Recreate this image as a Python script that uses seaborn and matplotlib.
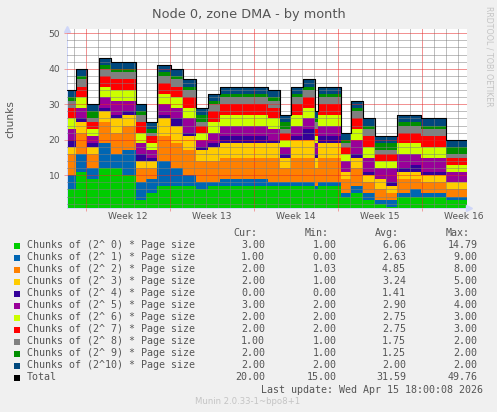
import numpy as np
import pandas as pd
import matplotlib
matplotlib.use("Agg")
import matplotlib.pyplot as plt
import matplotlib.dates as mdates
import matplotlib.transforms as mtransforms
from matplotlib.patches import Rectangle
from matplotlib.ticker import NullFormatter, MultipleLocator
import seaborn as sns

# graph window: 400 px of 2 hour samples ending at the last update
GRAPH_START = pd.Timestamp("2026-03-13 10:00")
GRAPH_HOURS = 800

# start of each sample run, hours after GRAPH_START
sample_hours = [0, 18, 40, 64, 88, 110, 138, 158, 180, 208, 232, 258, 282, 306, 402,
                426, 448, 472, 496, 502, 548, 568, 592, 616, 638, 660, 686, 708, 758]

# free chunks per order
chunks_o0 = [6, 11, 9, 12, 12, 10, 3, 5, 7, 7, 7, 6, 7, 7, 7, 7, 7, 7, 6, 7, 4, 5, 3, 2, 1, 4, 4, 4, 3]
chunks_o1 = [4, 5, 3, 7, 4, 7, 5, 4, 7, 5, 3, 2, 1, 2, 1, 1, 1, 1, 1, 1, 1, 2, 2, 1, 2, 1, 2, 1, 1]
chunks_o2 = [6, 6, 4, 6, 6, 7, 4, 3, 7, 7, 7, 6, 6, 6, 7, 4, 7, 7, 5, 7, 4, 5, 3, 3, 2, 4, 3, 3, 2]
chunks_o3 = [2, 3, 2, 3, 4, 3, 2, 2, 5, 5, 4, 3, 4, 4, 4, 3, 5, 5, 3, 4, 2, 3, 2, 3, 2, 2, 2, 2, 2]
chunks_o4 = [2, 1, 1, 1, 1, 1, 2, 1, 1, 2, 1, 1, 1, 2, 1, 1, 1, 3, 1, 2, 0, 1, 1, 0, 1, 1, 2, 1, 0]
chunks_o5 = [3, 3, 2, 3, 4, 3, 3, 2, 3, 3, 4, 2, 3, 3, 3, 2, 3, 3, 3, 3, 3, 4, 4, 3, 4, 4, 3, 4, 3]
chunks_o6 = [3, 3, 2, 3, 3, 3, 3, 2, 3, 3, 3, 2, 3, 3, 3, 2, 3, 3, 2, 3, 2, 3, 3, 2, 2, 3, 3, 3, 2]
chunks_o7 = [3, 3, 2, 3, 3, 3, 3, 2, 3, 3, 3, 2, 3, 3, 3, 2, 3, 3, 2, 3, 2, 3, 3, 2, 2, 3, 3, 3, 2]
chunks_o8 = [2, 2, 1, 2, 2, 2, 2, 1, 2, 2, 2, 1, 2, 2, 2, 1, 2, 2, 2, 2, 1, 2, 2, 1, 1, 2, 2, 2, 1]
chunks_o9 = [1, 1, 2, 1, 1, 1, 1, 1, 1, 1, 1, 2, 1, 1, 1, 2, 1, 1, 1, 1, 1, 1, 1, 2, 2, 1, 1, 1, 2]
chunks_o10 = [2, 2, 2, 2, 2, 2, 2, 2, 2, 2, 2, 2, 2, 2, 2, 2, 2, 2, 2, 2, 2, 2, 2, 2, 2, 2, 2, 2, 2]

series_values = [chunks_o0, chunks_o1, chunks_o2, chunks_o3, chunks_o4, chunks_o5,
                 chunks_o6, chunks_o7, chunks_o8, chunks_o9, chunks_o10]
series_labels = [f"Chunks of (2^{k:2d}) * Page size" for k in range(11)] + ["Total"]
series_colors = ["#00CC00", "#0066B3", "#FF8000", "#FFCC00", "#330099", "#990099",
                 "#CCFF00", "#FF0000", "#808080", "#008F00", "#00487D", "#000000"]

# legend statistics as printed below the graph
stat_cur = [3.00, 1.00, 2.00, 2.00, 0.00, 3.00, 2.00, 2.00, 1.00, 2.00, 2.00, 20.00]
stat_min = [1.00, 0.00, 1.03, 1.00, 0.00, 2.00, 2.00, 2.00, 1.00, 1.00, 2.00, 15.00]
stat_avg = [6.06, 2.63, 4.85, 3.24, 1.41, 2.90, 2.75, 2.75, 1.75, 1.25, 2.00, 31.59]
stat_max = [14.79, 9.00, 8.00, 5.00, 3.00, 4.00, 3.00, 3.00, 2.00, 2.00, 2.00, 49.76]

TEXT = "#555555"
MONO = "DejaVu Sans Mono"
W, H = 497, 412

sns.set_style("white")
plt.rcParams["font.family"] = ["DejaVu Sans"]


def fx(px):
    """pixel column -> figure fraction"""
    return px / W


def fy(py):
    """pixel row (from top) -> figure fraction"""
    return 1 - py / H


fig = plt.figure(figsize=(W / 100, H / 100), dpi=100, facecolor="#f0f0f0")
ax = fig.add_axes([fx(66.7), fy(207.7), (467 - 66.7) / W, (207.7 - 29) / H])
ax.set_facecolor("white")

# stacked areas, drawn as steps
times = (GRAPH_START + pd.to_timedelta(sample_hours + [GRAPH_HOURS], unit="h")).to_numpy()
values = np.array(series_values, dtype=float)
values = np.hstack([values, values[:, -1:]])
tops = np.cumsum(values, axis=0)
bottoms = np.vstack([np.zeros(values.shape[1]), tops[:-1]])
for bottom, top, colour in zip(bottoms, tops, series_colors):
    ax.fill_between(times, bottom, top, step="post", color=colour, linewidth=0, zorder=1)

# total as a line on top of the stack
sns.lineplot(x=times, y=tops[-1], drawstyle="steps-post", color="black",
             linewidth=0.8, ax=ax, zorder=4)

ax.set_xlim(GRAPH_START, GRAPH_START + pd.Timedelta(hours=GRAPH_HOURS))
ax.set_ylim(0.87, 51.2)
ax.set_xlabel("")
ax.set_ylabel("")

ax.xaxis.set_major_locator(mdates.WeekdayLocator(byweekday=mdates.SU))
ax.xaxis.set_minor_locator(mdates.DayLocator())
ax.xaxis.set_major_formatter(NullFormatter())
ax.xaxis.set_minor_formatter(NullFormatter())
ax.yaxis.set_major_locator(MultipleLocator(10))
ax.yaxis.set_minor_locator(MultipleLocator(2))

# rrdtool paints its grid semi-transparent over the areas
ax.grid(which="minor", color=(0.5, 0.5, 0.5, 0.25), linewidth=0.72, linestyle=(0, (1, 1)))
ax.grid(which="major", color=(0.9, 0.15, 0.15, 0.32), linewidth=0.72, linestyle=(0, (1, 1)))
ax.set_axisbelow(False)

ax.tick_params(bottom=True, left=True, direction="out")
ax.tick_params(which="major", length=2.2, width=0.72, color="#f0a0a0",
               labelsize=6.6, labelcolor=TEXT, pad=2.5)
ax.tick_params(which="minor", length=1.5, width=0.72, color="#c8c8c8")

for side in ["top", "right"]:
    ax.spines[side].set_visible(False)
for side in ["left", "bottom"]:
    ax.spines[side].set_color("#CFD6F8")
    ax.spines[side].set_linewidth(0.72)
ax.plot([0], [1.0], marker="^", ms=4, color="#CFD6F8", transform=ax.transAxes, clip_on=False)
ax.plot([1.006], [0], marker=">", ms=4, color="#CFD6F8", transform=ax.transAxes, clip_on=False)

# week labels sit in the middle of each week
blend = mtransforms.blended_transform_factory(ax.transData, ax.transAxes)
for sunday in pd.date_range("2026-03-15", periods=5, freq="7D"):
    mid = sunday + pd.Timedelta(days=3.5)
    ax.text(mdates.date2num(mid), -0.049, f"Week {mid.isocalendar().week}",
            transform=blend, ha="center", va="center", fontsize=6.6, color=TEXT, clip_on=False)

# titles
fig.text(fx(248.5), fy(18.3), "Node 0, zone DMA - by month", ha="center", va="baseline",
         fontsize=9.3, color=TEXT)
fig.text(fx(10.8), fy(119), "chunks", rotation=90, ha="center", va="center",
         fontsize=7.7, color=TEXT)
fig.text(fx(488.5), fy(56.5), "RRDTOOL / TOBI OETIKER", rotation=270, ha="center",
         va="center", fontsize=5.7, color="#c4c4c4")

# legend table
for col_x, head in zip([257.5, 328.5, 398.5, 470.0], ["Cur:", "Min:", "Avg:", "Max:"]):
    fig.text(fx(col_x), fy(233.5), head, ha="right", va="center", family=MONO,
             fontsize=7.2, color=TEXT)

value_cols = [265.0, 336.3, 406.0, 477.3]
for i, (label, colour) in enumerate(zip(series_labels, series_colors)):
    y = 245.5 + 12 * i
    fig.add_artist(Rectangle((fx(14), fy(y + 3)), 6 / W, 6 / H, transform=fig.transFigure,
                             facecolor=colour, edgecolor="none"))
    fig.text(fx(26.7), fy(y), label, ha="left", va="center", family=MONO,
             fontsize=7.2, color=TEXT)
    row = [stat_cur[i], stat_min[i], stat_avg[i], stat_max[i]]
    for col_x, v in zip(value_cols, row):
        fig.text(fx(col_x), fy(y), f"{v:.2f}", ha="right", va="center", family=MONO,
                 fontsize=7.2, color=TEXT)

fig.text(fx(482.7), fy(389.7), "Last update: Wed Apr 15 18:00:08 2026", ha="right",
         va="center", family=MONO, fontsize=7.2, color=TEXT)
fig.text(fx(248), fy(401), "Munin 2.0.33-1~bpo8+1", ha="center", va="center",
         fontsize=6.1, color="#c4c4c4")

fig.savefig("out.png", dpi=100, facecolor=fig.get_facecolor())
